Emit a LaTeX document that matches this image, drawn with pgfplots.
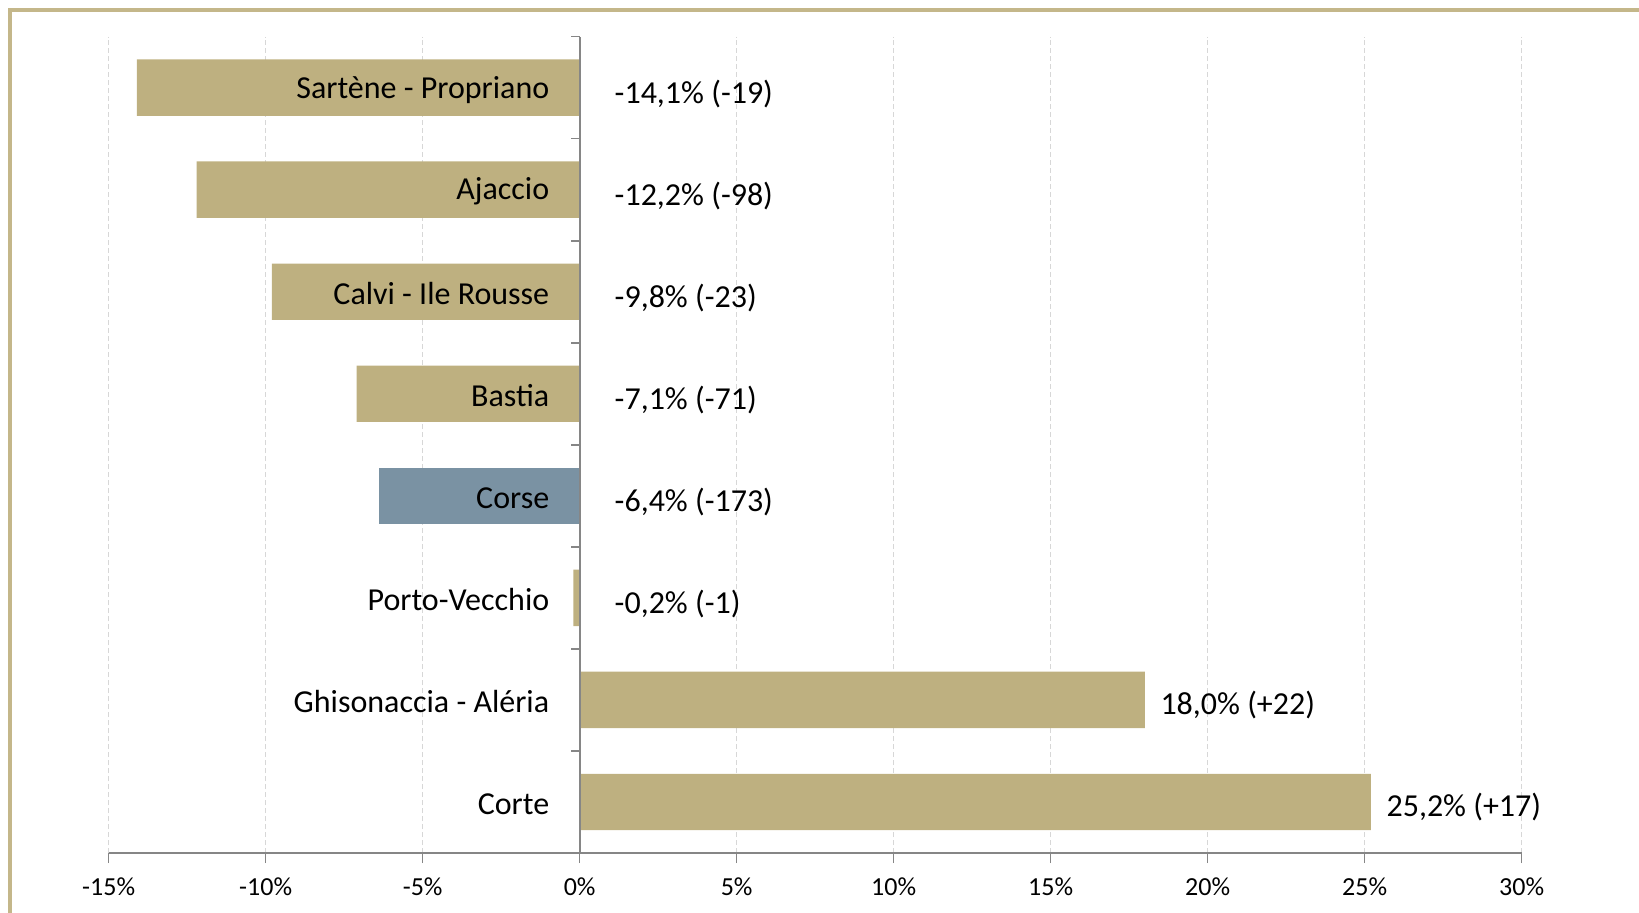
\documentclass[border=0pt]{standalone}
\usepackage{pgfplots}
\pgfplotsset{compat=1.18}
\usepackage{fontspec}
\setmainfont{Carlito}
\definecolor{gold}{RGB}{190,176,128}
\definecolor{corse}{RGB}{122,146,163}
\definecolor{framegold}{RGB}{196,183,138}
\definecolor{axgray}{RGB}{134,134,134}
\definecolor{gridgray}{RGB}{215,215,215}
\begin{document}
\begin{tikzpicture}
\useasboundingbox (0,0) rectangle (819.5pt,456pt);
\draw[framegold, line width=2pt] (5pt,-2pt) -- (5pt,451pt) -- (825pt,451pt);
\begin{axis}[
  at={(54.35pt,29.5pt)}, anchor=south west,
  scale only axis,
  width=706.45pt, height=408.2pt,
  xmin=-15, xmax=30, ymin=-0.5, ymax=7.5,
  axis x line=bottom, axis y line=none,
  axis line style={-, axgray, line width=1pt},
  xtick={-15,-10,-5,0,5,10,15,20,25,30},
  xticklabels={-15\%,-10\%,-5\%,0\%,5\%,10\%,15\%,20\%,25\%,30\%},
  tick align=outside,
  major tick length=5pt,
  xtick style={axgray, line width=0.8pt},
  xticklabel style={font=\fontsize{13}{15}\selectfont, yshift=-4pt},
  ytick=\empty,
  xmajorgrids,
  grid style={gridgray, line width=0.8pt, dash pattern=on 2.5pt off 1.5pt},
  clip=false,
]
% gold bars
\addplot[xbar, bar shift=0pt, bar width=28.2pt, fill=gold, draw=none]
  coordinates {(-14.1,7) (-12.2,6) (-9.8,5) (-7.1,4) (-0.2,2) (18.0,1) (25.2,0)};
% Corse bar
\addplot[xbar, bar shift=0pt, bar width=28.2pt, fill=corse, draw=none]
  coordinates {(-6.4,3)};
% vertical axis at 0 with boundary ticks
\addplot[xcomb, axgray, line width=0.8pt, mark=none]
  coordinates {(-0.27,-0.5) (-0.27,0.5) (-0.27,1.5) (-0.27,2.5) (-0.27,3.5) (-0.27,4.5) (-0.27,5.5) (-0.27,6.5) (-0.27,7.5)};
\draw[axgray, line width=1pt] (axis cs:0,-0.5) -- (axis cs:0,7.5);
% category labels
\addplot[draw=none, mark=none, nodes near coords, point meta=explicit symbolic,
  nodes near coords align={anchor=east},
  every node near coord/.append style={anchor=east, xshift=-11.7pt, yshift=-1pt, font=\fontsize{16}{19}\selectfont, text=black}]
  coordinates {(0,7) [{Sartène - Propriano}] (0,6) [{Ajaccio}] (0,5) [{Calvi - Ile Rousse}] (0,4) [{Bastia}] (0,3) [{Corse}] (0,2) [{Porto-Vecchio}] (0,1) [{Ghisonaccia - Aléria}] (0,0) [{Corte}]};
% value labels, negative
\addplot[draw=none, mark=none, nodes near coords, point meta=explicit symbolic,
  nodes near coords align={anchor=west},
  every node near coord/.append style={anchor=west, xshift=14pt, yshift=-3pt, font=\fontsize{16}{19}\selectfont, text=black}]
  coordinates {(0,7) [{-14,1\% (-19)}] (0,6) [{-12,2\% (-98)}] (0,5) [{-9,8\% (-23)}] (0,4) [{-7,1\% (-71)}] (0,3) [{-6,4\% (-173)}] (0,2) [{-0,2\% (-1)}]};
% value labels, positive
\addplot[draw=none, mark=none, nodes near coords, point meta=explicit symbolic,
  nodes near coords align={anchor=west},
  every node near coord/.append style={anchor=west, xshift=4.3pt, yshift=-2.5pt, font=\fontsize{16}{19}\selectfont, text=black}]
  coordinates {(18.0,1) [{18,0\% (+22)}] (25.2,0) [{25,2\% (+17)}]};
\end{axis}
\end{tikzpicture}
\end{document}
